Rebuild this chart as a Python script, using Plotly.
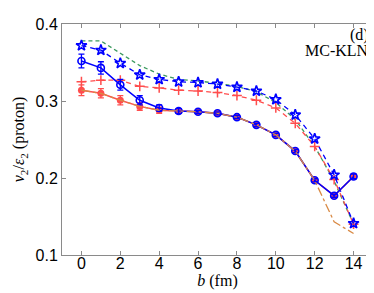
import plotly.graph_objects as go

b = [0, 1, 2, 3, 4, 5, 6, 7, 8, 9, 10, 11, 12, 13, 14]

green_dash = [0.378, 0.378, 0.362, 0.346, 0.335, 0.328, 0.326, 0.323, 0.319, 0.312, 0.298, 0.276, 0.241, 0.196, 0.140]
blue_star = [0.372, 0.366, 0.349, 0.334, 0.328, 0.325, 0.324, 0.322, 0.318, 0.313, 0.302, 0.282, 0.251, 0.204, 0.141]
red_plus = [0.325, 0.327, 0.327, 0.319, 0.317, 0.314, 0.313, 0.311, 0.307, 0.301, 0.291, 0.271, 0.241, 0.198, 0.140]
blue_circ = [0.352, 0.343, 0.321, 0.301, 0.291, 0.287, 0.286, 0.284, 0.279, 0.269, 0.256, 0.235, 0.197, 0.177, 0.202]
blue_err = [0.009, 0.008, 0.007, 0.006, 0.004, 0.003, 0.002, 0.002, 0.002, 0.002, 0.002, 0.002, 0.002, 0.002, 0.003]
red_circ = [0.314, 0.310, 0.301, 0.293, 0.288, 0.287, 0.286, 0.284, 0.279, 0.269, 0.256, 0.235, 0.197, 0.177, 0.202]
red_err = [0.007, 0.006, 0.006, 0.005, 0.004, 0.003, 0.002, 0.002, 0.002, 0.002, 0.002, 0.002, 0.002, 0.002, 0.003]
orange_dd = [0.314, 0.310, 0.301, 0.293, 0.288, 0.287, 0.286, 0.284, 0.279, 0.269, 0.256, 0.235, 0.197, 0.143, 0.128]

x_ticks = [0, 2, 4, 6, 8, 10, 12, 14]
y_ticks = [0.1, 0.2, 0.3, 0.4]

BLUE = "#0000ff"
RED = "#ff4d4d"
GREEN = "#3c9a5f"
ORANGE = "#d98a45"
SERIF = "Times New Roman, Liberation Serif, DejaVu Serif, serif"

fig = go.Figure()
fig.add_trace(go.Scatter(x=b, y=green_dash, mode="lines",
                         line=dict(color=GREEN, width=1.3, dash="4px,3px")))
fig.add_trace(go.Scatter(x=b, y=red_plus, mode="lines+markers",
                         line=dict(color=RED, width=1.3, dash="5px,4px"),
                         marker=dict(symbol="cross-thin-open", size=7, line=dict(color=RED, width=1.5))))
fig.add_trace(go.Scatter(x=b, y=blue_star, mode="lines+markers",
                         line=dict(color=BLUE, width=1.3, dash="5px,4px"),
                         marker=dict(symbol="star-open", size=8, color=BLUE, line=dict(color=BLUE, width=1.6))))
fig.add_trace(go.Scatter(x=b, y=red_circ, mode="lines+markers",
                         line=dict(color=RED, width=1.5),
                         marker=dict(symbol="circle", size=7, color=RED),
                         error_y=dict(type="data", array=red_err, color=RED, thickness=1.3, width=3)))
fig.add_trace(go.Scatter(x=b, y=blue_circ, mode="lines+markers",
                         line=dict(color=BLUE, width=1.5),
                         marker=dict(symbol="circle-open", size=7, color=BLUE, line=dict(color=BLUE, width=1.6)),
                         error_y=dict(type="data", array=blue_err, color=BLUE, thickness=1.3, width=3)))
fig.add_trace(go.Scatter(x=b, y=orange_dd, mode="lines",
                         line=dict(color=ORANGE, width=1.3, dash="dashdot")))

axis_common = dict(showline=True, linecolor="#8a8a8a", linewidth=1, mirror="ticks",
                   ticks="inside", ticklen=4, tickcolor="#8a8a8a", showgrid=False, zeroline=False,
                   tickfont=dict(family="Liberation Sans, Arial, sans-serif", size=16, color="black"))

fig.update_xaxes(range=[-1, 15], tickvals=x_ticks, ticktext=[str(t) for t in x_ticks],
                 ticklabelstandoff=-6,
                 title=dict(text="<i>b</i> (fm)", font=dict(family=SERIF, size=16, color="black"),
                            standoff=0),
                 **axis_common)
fig.update_yaxes(range=[0.1, 0.4], tickvals=y_ticks, ticktext=["0.1", "0.2", "0.3", "0.4"],
                 title=dict(text="<i>v</i><sub>2</sub>/<i>ε</i><sub>2</sub> (proton)",
                            font=dict(family=SERIF, size=16, color="black"),
                            standoff=6),
                 **axis_common)

fig.add_annotation(x=1, y=1, xref="paper", yref="paper", xanchor="right", yanchor="top",
                   text="(d)", showarrow=False, yshift=0, xshift=-2,
                   font=dict(family=SERIF, size=16, color="black"))
fig.add_annotation(x=1, y=1, xref="paper", yref="paper", xanchor="right", yanchor="top",
                   text="MC-KLN", showarrow=False, yshift=-16, xshift=-2,
                   font=dict(family=SERIF, size=16, color="black"))

fig.update_layout(width=374, height=293, margin=dict(l=54, r=8, t=13, b=46),
                  plot_bgcolor="white", paper_bgcolor="white", showlegend=False)

fig.write_html("out.html")
